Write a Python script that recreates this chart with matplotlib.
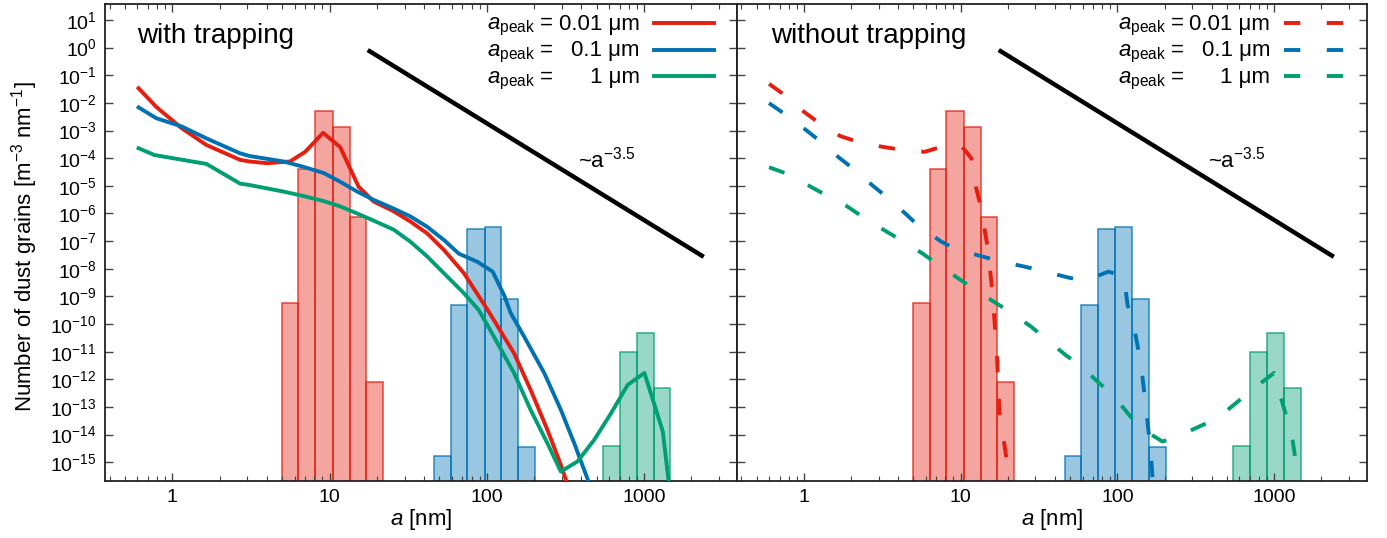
import matplotlib
matplotlib.use("Agg")
import matplotlib.pyplot as plt
from matplotlib.ticker import LogLocator, NullLocator, FixedLocator, FixedFormatter, LogFormatterSciNotation
from matplotlib.lines import Line2D
from matplotlib.colors import to_rgba

plt.rcParams['font.family'] = ['Liberation Sans', 'DejaVu Sans']
plt.rcParams['mathtext.fontset'] = 'custom'
plt.rcParams['mathtext.rm'] = 'Liberation Sans'
plt.rcParams['mathtext.it'] = 'Liberation Sans:italic'
plt.rcParams['mathtext.bf'] = 'Liberation Sans:bold'

RED = '#e51e10'
BLUE = '#0072b2'
GREEN = '#009e73'

# size bins [nm] and initial grain numbers (histograms)
red_edges = [4.97, 6.34, 8.1, 10.45, 13.4, 17.1, 21.9]
red_counts = [6e-10, 4e-5, 5.2e-3, 1.4e-3, 7.6e-7, 8.3e-13]
blue_edges = [46, 58.9, 75.2, 97, 124, 159, 203]
blue_counts = [1.7e-15, 4.8e-10, 2.7e-7, 3.2e-7, 8e-10, 3.6e-15]
green_edges = [546, 701, 900, 1156, 1473]
green_counts = [3.9e-15, 9.5e-12, 4.9e-11, 5e-13]

# with trapping (solid)
trap_red_a = [0.61, 0.79, 1.15, 1.65, 2.7, 3.1, 4.0, 5.6, 7.0, 9.1, 11.7, 15.3, 19.1, 25.6, 32.7,
              41.8, 53.4, 71.6, 103, 149, 190, 243, 296, 330]
trap_red_n = [3.4e-2, 7.2e-3, 1.2e-3, 3.0e-4, 8.7e-5, 7.6e-5, 6.6e-5, 7.6e-5, 1.7e-4, 8.3e-4, 2.5e-4,
              9.3e-6, 2.7e-6, 1.2e-6, 5.1e-7, 1.9e-7, 4.8e-8, 6.9e-9, 2.8e-10, 8.9e-12, 4.2e-13,
              1.5e-14, 8.1e-16, 1.3e-16]
trap_blue_a = [0.61, 0.79, 1.15, 1.65, 2.7, 3.1, 5.1, 6.8, 9.2, 11.7, 15.0, 19.1, 25.6, 32.7, 41.8,
               53.4, 66.5, 87, 109, 129, 142, 173, 232, 296, 360, 440]
trap_blue_n = [6.9e-3, 2.8e-3, 1.4e-3, 5.2e-4, 1.5e-4, 1.2e-4, 7.6e-5, 4.9e-5, 2.9e-5, 1.4e-5,
               6.2e-6, 3.1e-6, 1.5e-6, 7.8e-7, 3.3e-7, 1.1e-7, 3.5e-8, 1.8e-8, 7.9e-9, 1.1e-9,
               2.5e-10, 3.5e-11, 1.7e-12, 7.9e-14, 4.9e-15, 2.3e-16]
trap_green_a = [0.61, 0.77, 1.01, 1.65, 2.7, 3.1, 5.1, 6.8, 9.2, 11.7, 15.0, 19.1, 25.6, 32.7, 41.8,
                53.4, 71.6, 89, 111, 149, 190, 243, 296, 378, 483, 617, 788, 1007, 1318, 1432]
trap_green_n = [2.3e-4, 1.3e-4, 1.0e-4, 6.2e-5, 1.2e-5, 1.07e-5, 6.2e-6, 4.3e-6, 2.8e-6, 1.8e-6,
                1.0e-6, 5.5e-7, 2.6e-7, 9.5e-8, 2.8e-8, 6.9e-9, 1.3e-9, 3.2e-10, 3.5e-11,
                1.7e-12, 7.9e-14, 4.9e-15, 4.6e-16, 1.07e-15, 6.5e-15, 5.9e-14, 6.3e-13,
                1.7e-12, 1.3e-14, 2.3e-16]

# without trapping (dashed)
free_red_a = [0.6, 0.73, 1.0, 1.22, 1.71, 2.13, 3.15, 4.0, 5.9, 7.4, 8.7, 10.1, 11.7, 12.5, 13.2,
              14.8, 15.9, 17.0, 17.7, 19.9, 21.5]
free_red_n = [4.9e-2, 2.2e-2, 4.8e-3, 2.1e-3, 6.3e-4, 4.2e-4, 2.6e-4, 2.1e-4, 1.7e-4, 2.5e-4,
              3.0e-4, 2.8e-4, 1.0e-4, 9.3e-6, 2.7e-6, 7.2e-8, 1.7e-9, 1.0e-11, 6.3e-14,
              7.9e-16, 1.0e-16]
free_blue_a = [0.6, 0.74, 1.02, 1.24, 1.67, 2.04, 2.76, 3.35, 4.5, 5.4, 7.55, 9.3, 13.7, 17.5, 25.5,
               32.6, 48.1, 61.5, 87.8, 110, 116, 125, 141, 152, 163, 168]
free_blue_n = [9.8e-3, 4.3e-3, 1.1e-3, 4.6e-4, 1.07e-4, 4.4e-5, 1.0e-5, 4.1e-6, 9.3e-7, 3.5e-7,
               9.5e-8, 5.1e-8, 2.8e-8, 1.9e-8, 1.2e-8, 8.5e-9, 4.9e-9, 3.6e-9, 7.9e-9, 5.2e-9,
               4.9e-10, 1.4e-10, 4.0e-12, 1.0e-13, 2.5e-15, 2.0e-16]
free_green_a = [0.6, 0.76, 1.08, 1.34, 1.89, 2.33, 3.29, 4.04, 5.7, 6.98, 9.6, 11.9, 20.5, 28.1,
                34.7, 46.7, 58.9, 76.7, 93, 119, 141, 194, 241, 434, 725, 997, 1073, 1291, 1425]
free_green_n = [4.7e-5, 2.9e-5, 1.0e-5, 5.1e-6, 1.8e-6, 8.1e-7, 2.4e-7, 1.2e-7, 3.6e-8, 1.6e-8,
                4.6e-9, 2.0e-9, 2.8e-10, 8.1e-11, 3.0e-11, 7.6e-12, 2.9e-12, 7.2e-13, 2.8e-13,
                5.1e-14, 1.7e-14, 5.6e-15, 8.5e-15, 3.9e-14, 4.2e-13, 1.7e-12, 3.6e-13,
                1.1e-14, 2.6e-16]

# ~a^-3.5 guide line (two end points)
slope_a = [17.5, 2400]
slope_n = [0.82, 2.7e-8]

xticks = [1, 10, 100, 1000]
xtick_labels = ['1', '10', '100', '1000']
peak_labels = ['0.01 \u03bcm', '0.1 \u03bcm', '1 \u03bcm']
colors = [RED, BLUE, GREEN]

fig = plt.figure(figsize=(13.87, 5.38), dpi=100)
ax1 = fig.add_axes([105 / 1387, 0.106, 631.7 / 1387, 0.8866])
ax2 = fig.add_axes([736.7 / 1387, 0.106, 630 / 1387, 0.8866])

hists = [(red_edges, red_counts, RED), (blue_edges, blue_counts, BLUE), (green_edges, green_counts, GREEN)]

for ax in (ax1, ax2):
    ax.set_xscale('log')
    ax.set_yscale('log')
    for edges, counts, c in hists:
        lefts = edges[:-1]
        widths = [edges[i + 1] - edges[i] for i in range(len(counts))]
        ax.bar(lefts, counts, width=widths, bottom=1e-20, align='edge',
               facecolor=to_rgba(c, 0.4), edgecolor=to_rgba(c, 0.8), linewidth=1.1, zorder=1)
    ax.plot(slope_a, slope_n, color='black', lw=3.2, solid_capstyle='butt', zorder=3)
    ax.text(380, 4.8e-5, '~$\\mathregular{a^{-3.5}}$', fontsize=16, va='baseline', ha='left')

    ax.set_xlim(0.373, 3890)
    ax.set_ylim(2.1e-16, 38)
    ax.xaxis.set_major_locator(FixedLocator(xticks))
    ax.xaxis.set_major_formatter(FixedFormatter(xtick_labels))
    ax.xaxis.set_minor_locator(LogLocator(base=10, subs=range(2, 10), numticks=20))
    ax.yaxis.set_major_locator(LogLocator(base=10, numticks=40))
    ax.yaxis.set_minor_locator(NullLocator())
    ax.yaxis.set_major_formatter(LogFormatterSciNotation())
    ax.tick_params(which='both', direction='in', top=True, right=True, color='#444444')
    ax.tick_params(which='major', length=6, width=1.0, labelsize=14, pad=6)
    ax.tick_params(which='minor', length=3.5, width=0.8)
    for sp in ax.spines.values():
        sp.set_linewidth(1.3)
        sp.set_color('#222222')
    ax.set_xlabel('$a$ [nm]', fontsize=16)
    ax.xaxis.set_label_coords(0.5, -0.055)
    ax.xaxis.label.set_va('top')

ax2.tick_params(labelleft=False)

ax1.plot(trap_red_a, trap_red_n, color=RED, lw=2.8, zorder=4)
ax1.plot(trap_blue_a, trap_blue_n, color=BLUE, lw=2.8, zorder=4)
ax1.plot(trap_green_a, trap_green_n, color=GREEN, lw=2.8, zorder=4)

dash = (4.2, 6.8)
ax2.plot(free_red_a, free_red_n, color=RED, lw=2.8, dashes=dash, zorder=4)
ax2.plot(free_blue_a, free_blue_n, color=BLUE, lw=2.8, dashes=dash, zorder=4)
ax2.plot(free_green_a, free_green_n, color=GREEN, lw=2.8, dashes=dash, zorder=4)

ax1.text(0.05, 0.918, 'with trapping', transform=ax1.transAxes, fontsize=20, va='baseline')
ax2.text(0.0545, 0.918, 'without trapping', transform=ax2.transAxes, fontsize=20, va='baseline')

# hand-made keys
rows_y = [0.9595, 0.9036, 0.848]
for ax, ls in ((ax1, '-'), (ax2, '--')):
    for y, lab, c in zip(rows_y, peak_labels, colors):
        ax.text(0.6047, y - 0.0136, '$a_{\\rm peak}$ =', transform=ax.transAxes,
                fontsize=16, va='baseline', ha='left')
        ax.text(0.8469, y - 0.0136, lab, transform=ax.transAxes,
                fontsize=16, va='baseline', ha='right')
        ln = Line2D([0.869, 0.964], [y, y], transform=ax.transAxes, color=c, lw=2.8)
        if ls == '--':
            ln.set_dashes(dash)
        ax.add_line(ln)

fig.text(25 / 1387, 0.541, 'Number of dust grains [m$^{-3}$ nm$^{-1}$]', rotation=90,
         fontsize=16, ha='center', va='center')

fig.savefig('out.png', dpi=100)
